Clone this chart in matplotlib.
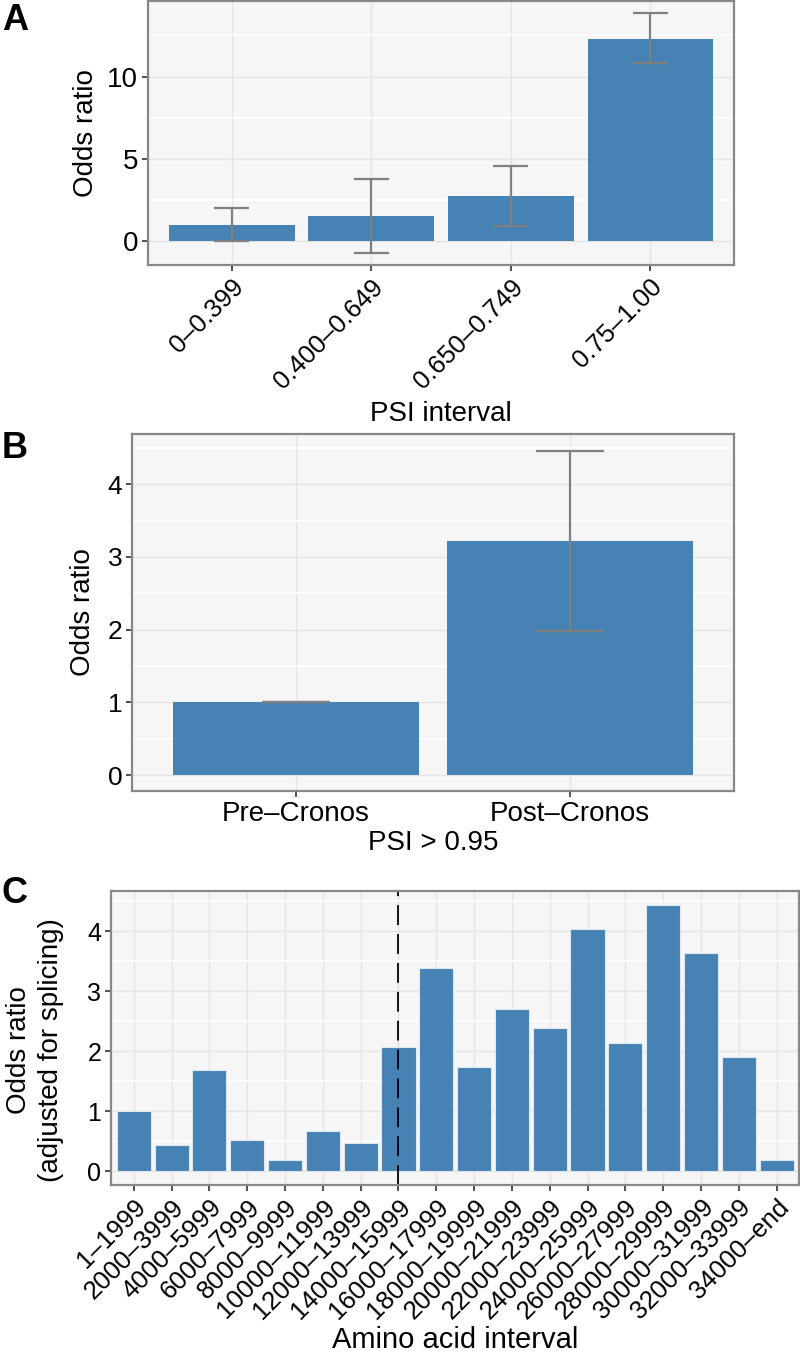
import numpy as np
import matplotlib
matplotlib.use("Agg")
import matplotlib.pyplot as plt
from matplotlib.ticker import MultipleLocator

plt.rcParams["font.family"] = ["Liberation Sans", "DejaVu Sans"]

# ==============================
# Data
# ==============================

psi_labels = ["0–0.399", "0.400–0.649", "0.650–0.749", "0.75–1.00"]
psi_odds = [1.0, 1.5, 2.75, 12.3]
psi_lo = [0.0, -0.72, 0.95, 10.85]
psi_hi = [2.0, 3.75, 4.55, 13.85]

cronos_labels = ["Pre–Cronos", "Post–Cronos"]
cronos_odds = [1.0, 3.22]
cronos_lo = [1.0, 1.98]
cronos_hi = [1.0, 4.46]

aa_labels = ["1–1999", "2000–3999", "4000–5999", "6000–7999", "8000–9999",
             "10000–11999", "12000–13999", "14000–15999", "16000–17999",
             "18000–19999", "20000–21999", "22000–23999", "24000–25999",
             "26000–27999", "28000–29999", "30000–31999", "32000–33999",
             "34000–end"]
aa_odds = [1.0, 0.44, 1.69, 0.52, 0.18, 0.67, 0.47, 2.07, 3.38, 1.74,
           2.70, 2.39, 4.04, 2.13, 4.44, 3.63, 1.90, 0.18]
aa_marker = "14000–15999"

BAR = "#4682B4"
ERR = "#808080"


def style(ax, major, minor, ylim, n):
    ax.set_facecolor("#F6F6F6")
    ax.set_xlim(-0.6, n - 0.4)
    ax.set_ylim(*ylim)
    ax.yaxis.set_major_locator(MultipleLocator(major))
    ax.yaxis.set_minor_locator(MultipleLocator(minor))
    ax.grid(which="major", color="#E4E4E4", linewidth=1.0)
    ax.grid(which="minor", axis="y", color="white", linewidth=1.4)
    ax.set_axisbelow(True)
    for s in ax.spines.values():
        s.set_color("#888888")
        s.set_linewidth(1.6)
    ax.tick_params(which="major", length=4, width=1.2, color="#333333",
                   labelcolor="black", pad=3)
    ax.tick_params(which="minor", length=0)


fig = plt.figure(figsize=(8, 13.61), dpi=100)

# ===================================================
# A : PSI interval
# ===================================================

axA = fig.add_axes([0.185, 0.8053, 0.7325, 0.1940])
x = np.arange(len(psi_labels))
axA.bar(x, psi_odds, width=0.9, color=BAR)
axA.vlines(x, psi_lo, psi_hi, color=ERR, linewidth=1.6)
axA.hlines(psi_lo, x - 0.125, x + 0.125, color=ERR, linewidth=1.6)
axA.hlines(psi_hi, x - 0.125, x + 0.125, color=ERR, linewidth=1.6)
style(axA, 5, 2.5, (-1.45, 14.6), len(psi_labels))
axA.set_xticks(x)
axA.set_xticklabels(psi_labels, rotation=45, ha="right", va="top",
                    rotation_mode="anchor", fontsize=18.5)
axA.tick_params(axis="y", labelsize=20)
axA.set_xlabel("PSI interval", fontsize=20, labelpad=6)
axA.set_ylabel("Odds ratio", fontsize=20, labelpad=6)

# ===================================================
# B : Pre / Post Cronos
# ===================================================

axB = fig.add_axes([0.165, 0.4188, 0.7525, 0.2623])
x = np.arange(len(cronos_labels))
axB.bar(x, cronos_odds, width=0.9, color=BAR)
axB.vlines(x, cronos_lo, cronos_hi, color=ERR, linewidth=1.6)
axB.hlines(cronos_lo, x - 0.125, x + 0.125, color=ERR, linewidth=1.6)
axB.hlines(cronos_hi, x - 0.125, x + 0.125, color=ERR, linewidth=1.6)
style(axB, 1, 0.5, (-0.22, 4.69), len(cronos_labels))
axB.set_xticks(x)
axB.set_xticklabels(cronos_labels, fontsize=20)
axB.tick_params(axis="y", labelsize=19)
axB.set_xlabel("PSI > 0.95", fontsize=20, labelpad=2)
axB.set_ylabel("Odds ratio", fontsize=20, labelpad=8)

# ===================================================
# C : Amino acid interval
# ===================================================

axC = fig.add_axes([0.139, 0.1293, 0.86, 0.2160])
x = np.arange(len(aa_labels))
axC.bar(x, aa_odds, width=0.9, color=BAR, edgecolor="#DDE8F2", linewidth=0.8)
axC.axvline(aa_labels.index(aa_marker), color="black", linewidth=1.3,
            linestyle=(0, (11, 5)))
style(axC, 1, 0.5, (-0.23, 4.67), len(aa_labels))
axC.set_xticks(x)
axC.set_xticklabels(aa_labels, rotation=45, ha="right", va="top",
                    rotation_mode="anchor", fontsize=18.5)
axC.tick_params(axis="y", labelsize=18)
axC.set_xlabel("Amino acid interval", fontsize=21, labelpad=2)
axC.set_ylabel("Odds ratio\n(adjusted for splicing)", fontsize=20,
               linespacing=1.3)
axC.yaxis.set_label_coords(-0.068, 0.46)

# panel letters
fig.text(0.002, 0.998, "A", fontsize=26, fontweight="bold", va="top")
fig.text(0.002, 0.683, "B", fontsize=26, fontweight="bold", va="top")
fig.text(0.002, 0.356, "C", fontsize=26, fontweight="bold", va="top")

plt.savefig("out.png", dpi=100)
